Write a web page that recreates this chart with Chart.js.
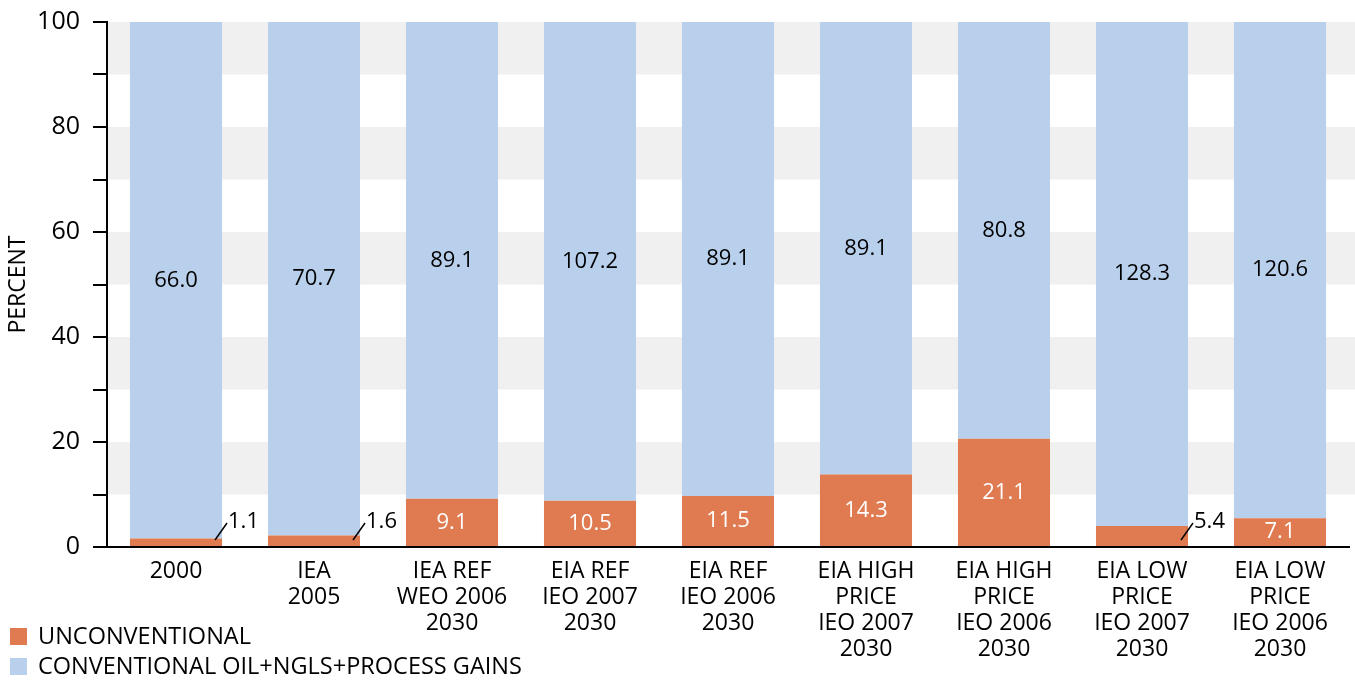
<!DOCTYPE html>
<html>
<head>
<meta charset="utf-8">
<script src="https://cdn.jsdelivr.net/npm/chart.js@4/dist/chart.umd.min.js"></script>
<style>
    html, body { margin: 0; padding: 0; background: #fff; }
    #wrap { width: 1355px; height: 681px; }
</style>
</head>
<body>
<div id="wrap"><canvas id="myChart" width="1355" height="681"></canvas></div>
<script>
    //data
    const categories = [
        ["2000"],
        ["IEA", "2005"],
        ["IEA REF", "WEO 2006", "2030"],
        ["EIA REF", "IEO 2007", "2030"],
        ["EIA REF", "IEO 2006", "2030"],
        ["EIA HIGH", "PRICE", "IEO 2007", "2030"],
        ["EIA HIGH", "PRICE", "IEO 2006", "2030"],
        ["EIA LOW", "PRICE", "IEO 2007", "2030"],
        ["EIA LOW", "PRICE", "IEO 2006", "2030"]
    ];
    // share of total (percent) = bar heights
    const unconvShare = [1.6, 2.2, 9.2, 8.8, 9.7, 13.8, 20.6, 4.0, 5.5];
    const convShare = [98.4, 97.8, 90.8, 91.2, 90.3, 86.2, 79.4, 96.0, 94.5];
    // values printed on the bars
    const unconvValues = ["1.1", "1.6", "9.1", "10.5", "11.5", "14.3", "21.1", "5.4", "7.1"];
    const convValues = ["66.0", "70.7", "89.1", "107.2", "89.1", "89.1", "80.8", "128.3", "120.6"];
    const seriesNames = ["UNCONVENTIONAL", "CONVENTIONAL OIL+NGLS+PROCESS GAINS"];
    const seriesColors = ["#E07A51", "#B9D0EC"];
    const yMin = 0, yMax = 100, yStep = 10, yLabelStep = 20;

    const FONT = "'Open Sans', 'Noto Sans', sans-serif";
    Chart.defaults.font.family = FONT;
    Chart.defaults.color = "#000";

    //gray bands behind the bars
    const bandsPlugin = {
        id: 'bands',
        beforeDatasetsDraw(chart) {
            const ctx = chart.ctx, y = chart.scales.y, area = chart.chartArea;
            ctx.save();
            ctx.fillStyle = "#F0F0F0";
            for (let v = yMin; v < yMax; v += yStep) {
                if ((v / yStep) % 2 === 1) {
                    const top = y.getPixelForValue(v + yStep), bot = y.getPixelForValue(v);
                    ctx.fillRect(area.left + 1, top, chart.width - area.left - 1, bot - top);
                }
            }
            ctx.restore();
        }
    };

    //value labels on bars
    const valueLabels = {
        id: 'valueLabels',
        afterDatasetsDraw(chart) {
            const ctx = chart.ctx;
            ctx.save();
            ctx.font = "22px " + FONT;
            ctx.textBaseline = "middle";
            const texts = [unconvValues, convValues];
            chart.data.datasets.forEach(function (ds, di) {
                const meta = chart.getDatasetMeta(di);
                meta.data.forEach(function (bar, i) {
                    const p = bar.getProps(['x', 'y', 'base', 'width'], true);
                    const h = Math.abs(p.base - p.y);
                    const txt = texts[di][i];
                    if (di === 0 && h < 25) {
                        // small slice: label outside with a leader line
                        const right = p.x + p.width / 2;
                        ctx.strokeStyle = "#000";
                        ctx.lineWidth = 1.5;
                        ctx.beginPath();
                        ctx.moveTo(right - 7, p.base - 6);
                        ctx.lineTo(right + 5, p.base - 23);
                        ctx.stroke();
                        ctx.fillStyle = "#000";
                        ctx.textAlign = "left";
                        ctx.fillText(txt, right + 6, p.base - 24);
                    } else {
                        ctx.fillStyle = di === 0 ? "#fff" : "#000";
                        ctx.textAlign = "center";
                        ctx.fillText(txt, p.x, (p.y + p.base) / 2);
                    }
                });
            });
            ctx.restore();
        }
    };

    //legend bottom left, stacked
    const legendPlugin = {
        id: 'stackLegend',
        afterDraw(chart) {
            const ctx = chart.ctx;
            ctx.save();
            ctx.font = "23.5px " + FONT;
            ctx.textBaseline = "middle";
            ctx.textAlign = "left";
            chart.data.datasets.forEach(function (ds, i) {
                const cy = 636 + i * 30;
                ctx.fillStyle = ds.backgroundColor;
                ctx.fillRect(10, cy - 8, 17, 17);
                ctx.fillStyle = "#000";
                ctx.fillText(ds.label, 38, cy + 1);
            });
            ctx.restore();
        }
    };

    new Chart("myChart", {
        type: "bar",
        data: {
            labels: categories,
            datasets: [{
                label: seriesNames[0],
                data: unconvShare,
                backgroundColor: seriesColors[0]
            }, {
                label: seriesNames[1],
                data: convShare,
                backgroundColor: seriesColors[1]
            }]
        },
        options: {
            responsive: false,
            animation: false,
            layout: { padding: { top: 22, right: 6, left: 0, bottom: 0 } },
            datasets: {
                bar: { barPercentage: 0.667, categoryPercentage: 1, borderWidth: 0 }
            },
            plugins: {
                legend: { display: false },
                tooltip: { enabled: false }
            },
            scales: {
                x: {
                    stacked: true,
                    grid: { display: false },
                    border: { display: true, color: "#000", width: 2 },
                    ticks: {
                        font: { size: 23, lineHeight: 1.13 },
                        padding: 3,
                        maxRotation: 0,
                        autoSkip: false
                    },
                    afterFit: function (s) { s.height = 681 - 547; }
                },
                y: {
                    stacked: true,
                    min: yMin,
                    max: yMax,
                    grid: {
                        drawOnChartArea: false,
                        drawTicks: true,
                        tickLength: 14,
                        color: "#000",
                        lineWidth: 2
                    },
                    border: { display: true, color: "#000", width: 2 },
                    ticks: {
                        stepSize: yStep,
                        font: { size: 25 },
                        padding: 13,
                        callback: function (v) { return v % yLabelStep === 0 ? v : ""; }
                    },
                    title: {
                        display: true,
                        text: "PERCENT",
                        font: { size: 23 },
                        padding: { top: 5, bottom: 0 }
                    },
                    afterFit: function (s) {
                        s.width = 107;
                        s.paddingTop = 0;
                        s.paddingBottom = 0;
                    }
                }
            }
        },
        plugins: [bandsPlugin, valueLabels, legendPlugin]
    });
</script>
</body>
</html>
